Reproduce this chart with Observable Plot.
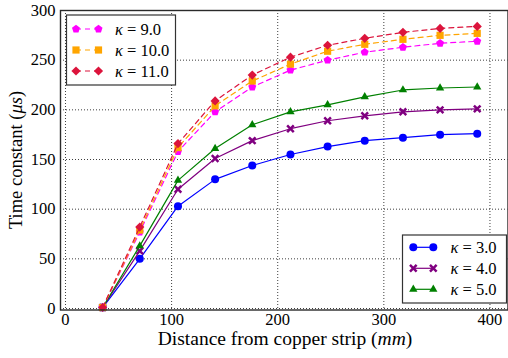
<!DOCTYPE html>
<html><head><meta charset="utf-8">
<script src="https://cdn.jsdelivr.net/npm/d3@7"></script>
<script src="https://cdn.jsdelivr.net/npm/@observablehq/plot@0.6"></script>
<style>body{margin:0;background:#fff} svg{display:block}</style>
</head><body><div id="chart"></div>
<script>
// ---- data ----
const distances = [35, 70, 106, 141, 176, 212, 247, 282, 318, 353, 388];
const kappa3  = [1, 50, 103, 130, 144, 155, 163, 169, 172, 175, 176];
const kappa4  = [1, 58, 120, 151, 169, 181, 189, 194, 198, 200, 201];
const kappa5  = [1, 63, 129, 161, 185, 198, 205, 213, 220, 222, 223];
const kappa9  = [1, 77, 158, 198, 223, 240, 250, 258, 263, 267, 269];
const kappa10 = [1, 79, 162, 204, 229, 246, 259, 266, 271, 275, 277];
const kappa11 = [1, 82, 166, 209, 235, 253, 265, 272, 278, 282, 284];
const seriesKappa = ["3.0", "4.0", "5.0", "9.0", "10.0", "11.0"];
const seriesValues = [kappa3, kappa4, kappa5, kappa9, kappa10, kappa11];
const xTicks = [0, 100, 200, 300, 400];
const yTicks = [0, 50, 100, 150, 200, 250, 300];

// ---- styles ----
const colors = ["#0000ff", "#800080", "#008000", "#ff00ff", "#ffa500", "#dc143c"];
const dashed = [false, false, false, true, true, true];
const font = "'Liberation Serif', 'DejaVu Serif', serif";

// custom marker shapes (size = pi r^2)
const rad = s => Math.sqrt(s / Math.PI);
const circleSym = {draw(c, s){ const r = rad(s); c.moveTo(r,0); c.arc(0,0,r,0,2*Math.PI); c.closePath(); }};
const xSym = {draw(c, s){ const r = rad(s)*1.05, w = r*0.42;
  const pts = [[0,-w],[r-w,-r],[r,-r+w],[w,0],[r,r-w],[r-w,r],[0,w],[-r+w,r],[-r,r-w],[-w,0],[-r,-r+w],[-r+w,-r]];
  c.moveTo(pts[0][0],pts[0][1]); for (const p of pts.slice(1)) c.lineTo(p[0],p[1]); c.closePath(); }};
const triSym = {draw(c, s){ const r = rad(s)*1.2;
  c.moveTo(0,-r); c.lineTo(r*0.866, r*0.5); c.lineTo(-r*0.866, r*0.5); c.closePath(); }};
const pentSym = {draw(c, s){ const r = rad(s)*1.05;
  for (let i = 0; i < 5; i++){ const a = -Math.PI/2 + i*2*Math.PI/5; const x = r*Math.cos(a), y = r*Math.sin(a); i ? c.lineTo(x,y) : c.moveTo(x,y); } c.closePath(); }};
const sqSym = {draw(c, s){ const h = rad(s)*0.9; c.rect(-h,-h,2*h,2*h); }};
const diaSym = {draw(c, s){ const r = rad(s)*1.15; c.moveTo(0,-r); c.lineTo(r,0); c.lineTo(0,r); c.lineTo(-r,0); c.closePath(); }};
const symbols = [circleSym, xSym, triSym, pentSym, sqSym, diaSym];
const markR = 4;

const rows = [];
seriesValues.forEach((vals, si) => vals.forEach((v, i) => rows.push({series: si, x: distances[i], y: v})));

const marks = [
  Plot.gridX(xTicks, {stroke: "#000", strokeOpacity: 0.85, strokeWidth: 0.9, strokeDasharray: "1,2"}),
  Plot.gridY(yTicks, {stroke: "#000", strokeOpacity: 0.85, strokeWidth: 0.9, strokeDasharray: "1,2"})
];
seriesValues.forEach((_, si) => {
  const d = rows.filter(r => r.series === si);
  marks.push(Plot.line(d, {x: "x", y: "y", stroke: colors[si], strokeWidth: 1.2,
    strokeDasharray: dashed[si] ? "5,4" : null}));
  marks.push(Plot.dot(d, {x: "x", y: "y", r: markR, symbol: symbols[si], fill: colors[si], stroke: "none"}));
});
marks.push(
  Plot.frame({stroke: "#2a2a2a", strokeWidth: 1.4}),
  Plot.axisX(xTicks, {tickSize: 0, tickPadding: 3, fontSize: 16.5, label: null, tickFormat: d => d}),
  Plot.axisY(yTicks, {tickSize: 0, tickPadding: 5, fontSize: 16.5, label: null, tickFormat: d => d})
);

const chart = Plot.plot({
  width: 508, height: 358,
  marginLeft: 60, marginTop: 10, marginRight: 0.5, marginBottom: 48.5,
  style: {fontFamily: font, color: "#000", background: "#fff"},
  x: {domain: [-4.7, 417]},
  y: {domain: [-1.5, 300]},
  marks
});
document.getElementById("chart").append(chart);

// ---- axis titles & legends ----
const svg = d3.select(chart);
const xl = svg.append("text").attr("x", 285).attr("y", 345).attr("text-anchor", "middle")
  .attr("font-family", font).attr("font-size", 19.5).attr("fill", "#000");
xl.append("tspan").text("Distance from copper strip (");
xl.append("tspan").attr("font-style", "italic").text("mm");
xl.append("tspan").text(")");
const yl = svg.append("text").attr("transform", "translate(22,160) rotate(-90)").attr("text-anchor", "middle")
  .attr("font-family", font).attr("font-size", 18.5).attr("fill", "#000");
yl.append("tspan").text("Time constant (");
yl.append("tspan").attr("font-style", "italic").text("μs");
yl.append("tspan").text(")");

function legend(box, entries, m1, m2, tx) {
  svg.append("rect").attr("x", box[0]).attr("y", box[1]).attr("width", box[2]).attr("height", box[3])
    .attr("fill", "#fff").attr("stroke", "#333").attr("stroke-width", 1.2);
  entries.forEach(([si, y]) => {
    svg.append("line").attr("x1", m1).attr("x2", m2).attr("y1", y).attr("y2", y)
      .attr("stroke", colors[si]).attr("stroke-width", 1.2).attr("stroke-dasharray", dashed[si] ? "5,4" : null);
    [m1, m2].forEach(mx => svg.append("path")
      .attr("d", d3.symbol(symbols[si], Math.PI * markR * markR)())
      .attr("transform", `translate(${mx},${y})`).attr("fill", colors[si]));
    const t = svg.append("text").attr("x", tx).attr("y", y + 5.5).attr("font-family", font)
      .attr("text-anchor", "start").attr("font-size", 16.5).attr("fill", "#000");
    t.append("tspan").attr("font-style", "italic").text("κ");
    t.append("tspan").text(" = " + seriesKappa[si]);
  });
}
legend([66.5, 15, 109, 70], [[3, 29], [4, 50], [5, 71]], 76, 98.5, 115);
legend([402.5, 235, 104, 68], [[0, 247.3], [1, 268.3], [2, 289.3]], 413.3, 433.3, 450.5);
</script></body></html>
